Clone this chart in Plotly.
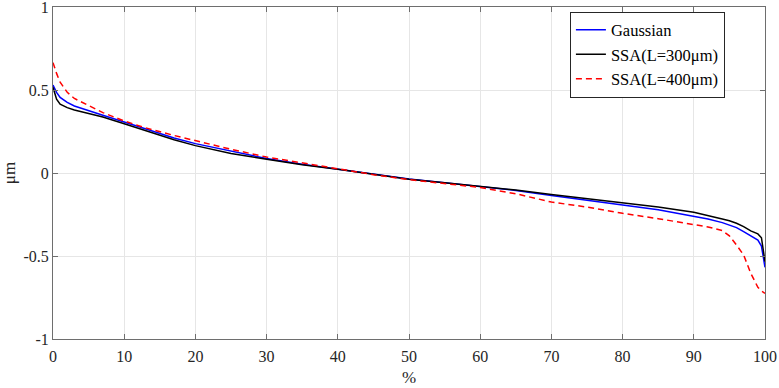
import plotly.graph_objects as go

x_pct = [0, 0.3, 0.5, 1, 2, 3, 5, 7, 10, 13, 17, 20, 25, 30, 35, 40, 45, 50, 55, 60,
         65, 70, 75, 80, 85, 90, 92, 94, 95, 96, 97, 98, 99, 99.5, 100]

gaussian = [0.53, 0.50, 0.486, 0.455, 0.425, 0.404, 0.374, 0.348, 0.307, 0.266, 0.211,
            0.177, 0.13, 0.087, 0.053, 0.022, -0.007, -0.036, -0.058, -0.080, -0.105,
            -0.135, -0.162, -0.193, -0.222, -0.259, -0.277, -0.299, -0.312, -0.329,
            -0.353, -0.379, -0.404, -0.44, -0.568]

ssa300 = [0.516, 0.465, 0.445, 0.415, 0.394, 0.38, 0.36, 0.337, 0.297, 0.256, 0.20,
          0.165, 0.118, 0.083, 0.05, 0.022, -0.008, -0.038, -0.058, -0.079, -0.103,
          -0.13, -0.155, -0.179, -0.205, -0.237, -0.255, -0.277, -0.288, -0.303,
          -0.323, -0.349, -0.367, -0.39, -0.534]

ssa400 = [0.665, 0.62, 0.60, 0.547, 0.486, 0.449, 0.404, 0.364, 0.313, 0.272, 0.226,
          0.195, 0.143, 0.096, 0.06, 0.026, -0.01, -0.04, -0.062, -0.087, -0.125,
          -0.175, -0.205, -0.243, -0.275, -0.309, -0.325, -0.347, -0.379, -0.434,
          -0.494, -0.604, -0.689, -0.71, -0.725]

x_ticks = [0, 10, 20, 30, 40, 50, 60, 70, 80, 90, 100]
y_ticks = [-1, -0.5, 0, 0.5, 1]
y_ticktext = ["-1", "-0.5", "0", "0.5", "1"]

font_family = "Liberation Serif"

fig = go.Figure()
fig.add_trace(go.Scatter(x=x_pct, y=gaussian, mode="lines", name="Gaussian",
                         line=dict(color="#0000ff", width=1.5)))
fig.add_trace(go.Scatter(x=x_pct, y=ssa300, mode="lines", name="SSA(L=300μm)",
                         line=dict(color="#000000", width=1.5)))
fig.add_trace(go.Scatter(x=x_pct, y=ssa400, mode="lines", name="SSA(L=400μm)",
                         line=dict(color="#ff0000", width=1.5, dash="6px,4px")))

axis_common = dict(showline=True, linecolor="#6e6e6e", linewidth=1, mirror="ticks",
                   ticks="inside", ticklen=5, tickcolor="#6e6e6e", automargin=False,
                   ticklabeloverflow="allow",
                   showgrid=True, gridcolor="#e6e6e6", gridwidth=1, zeroline=False,
                   tickfont=dict(family=font_family, size=16, color="#262626"))

fig.update_layout(
    width=779, height=388,
    margin=dict(l=53, r=14, t=7, b=49),
    paper_bgcolor="white", plot_bgcolor="white",
    font=dict(family=font_family, size=16, color="#262626"),
    xaxis=dict(range=[0, 100], tickvals=x_ticks, ticklabelstandoff=3,
               title=dict(text="%", font=dict(family=font_family, size=17), standoff=6),
               **axis_common),
    yaxis=dict(range=[-1, 1], tickvals=y_ticks, ticktext=y_ticktext,
               title=dict(text="μm", font=dict(family=font_family, size=17), standoff=8),
               **axis_common),
    legend=dict(x=0.726, y=0.986, xanchor="left", yanchor="top",
                bgcolor="white", bordercolor="#262626", borderwidth=1,
                font=dict(family=font_family, size=16.5, color="#000000"),
                tracegroupgap=0, itemwidth=30),
    showlegend=True,
)

fig.write_html("out.html")
